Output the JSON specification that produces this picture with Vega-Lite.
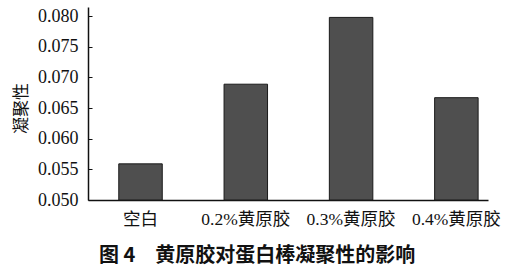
{
  "$schema": "https://vega.github.io/schema/vega-lite/v6.json",
  "width": 400,
  "height": 193,
  "autosize": "none",
  "padding": {"left": 88, "top": 7, "right": 22, "bottom": 67},
  "background": "white",
  "title": {
    "text": "图 4　黄原胶对蛋白棒凝聚性的影响",
    "orient": "bottom",
    "anchor": "start",
    "frame": "group",
    "dx": 11,
    "offset": 18,
    "font": "Noto Sans CJK SC",
    "fontSize": 20,
    "fontWeight": "bold",
    "color": "#111"
  },
  "data": {
    "values": [
      {"group": "空白", "cohesiveness": 0.0559},
      {"group": "0.2%黄原胶", "cohesiveness": 0.0689},
      {"group": "0.3%黄原胶", "cohesiveness": 0.0798},
      {"group": "0.4%黄原胶", "cohesiveness": 0.0667}
    ]
  },
  "mark": {"type": "bar", "fill": "#4f4f4f", "stroke": "#1a1a1a", "strokeWidth": 1},
  "encoding": {
    "x": {
      "field": "group",
      "type": "nominal",
      "sort": null,
      "scale": {"paddingInner": 0.587, "paddingOuter": 0.193, "align": 0.757},
      "axis": {
        "title": null,
        "labelAngle": 0,
        "ticks": false,
        "labelPadding": 10,
        "labelFont": "Liberation Serif, Noto Sans CJK SC",
        "labelFontSize": 17.5,
        "labelColor": "#111",
        "domainColor": "#111",
        "domainWidth": 1.5
      }
    },
    "y": {
      "field": "cohesiveness",
      "type": "quantitative",
      "scale": {"domain": [0.05, 0.0815], "zero": false, "nice": false},
      "axis": {
        "title": "凝聚性",
        "titleFont": "Noto Sans CJK SC",
        "titleFontSize": 17,
        "titleFontWeight": "normal",
        "titleColor": "#111",
        "titleAngle": -90,
        "titleX": -67,
        "titleY": 101,
        "titleAlign": "center",
        "titleBaseline": "middle",
        "values": [0.05, 0.055, 0.06, 0.065, 0.07, 0.075, 0.08],
        "format": ".3f",
        "grid": false,
        "tickSize": -4,
        "tickColor": "#111",
        "labelPadding": 14,
        "labelFont": "Liberation Serif",
        "labelFontSize": 18,
        "labelColor": "#111",
        "domainColor": "#111",
        "domainWidth": 1.5
      }
    },
    "y2": {"datum": 0.05}
  },
  "config": {"view": {"stroke": null}}
}
